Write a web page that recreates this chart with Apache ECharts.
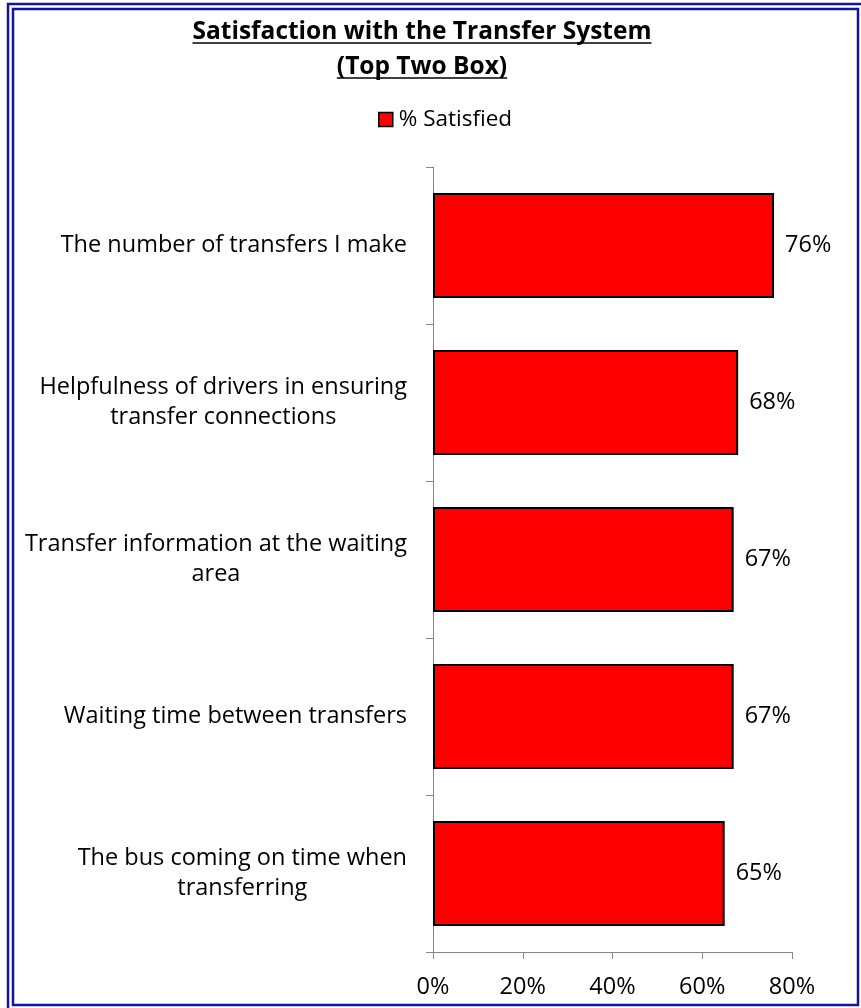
<!DOCTYPE html>
<html>
<head>
<meta charset="utf-8">
<script src="https://cdn.jsdelivr.net/npm/echarts@6/dist/echarts.min.js"></script>
<style>
html,body{margin:0;padding:0;background:#fff;}
#chart{width:861px;height:1008px;}
</style>
</head>
<body>
<div id="chart"></div>
<script>
const categories = [
  "The number of transfers I make",
  "Helpfulness of drivers in ensuring\ntransfer connections",
  "Transfer information at the waiting\narea",
  "Waiting time between transfers",
  "The bus coming on time when\ntransferring"
];
const satisfied = [0.76, 0.68, 0.67, 0.67, 0.65];
const xTicks = [0, 0.2, 0.4, 0.6, 0.8];
const titleLines = ["Satisfaction with the Transfer System", "(Top Two Box)"];
const seriesName = "% Satisfied";

const FONT = "Open Sans";
const ctx = document.createElement('canvas').getContext('2d');
function fitSize(text, weight, target) {
  ctx.font = weight + " 20px '" + FONT + "'";
  return 20 * target / ctx.measureText(text).width;
}
const fs = Math.round(fitSize("Helpfulness of drivers in ensuring", "normal", 364) * 2) / 2;
const tfs = Math.round(fitSize(titleLines[0], "bold", 455) * 2) / 2;
const titleFont = "bold " + tfs + "px '" + FONT + "'";
ctx.font = titleFont;
const titleCx = 422;
const titleMid = [32, 67];
const graphics = [];
graphics.push({type:'rect', silent:true, shape:{x:8, y:4, width:860, height:1012}, style:{fill:'none', stroke:'#1414a0', lineWidth:2.5}});
graphics.push({type:'rect', silent:true, shape:{x:13, y:9, width:845, height:996}, style:{fill:'none', stroke:'#1414a0', lineWidth:2.5}});
titleLines.forEach((t, i) => {
  const w = ctx.measureText(t).width;
  graphics.push({type:'text', silent:true, x:titleCx, y:titleMid[i], style:{text:t, font:titleFont, fill:'#000', align:'center', verticalAlign:'middle'}});
  graphics.push({type:'line', silent:true, shape:{x1:titleCx - w/2, y1:titleMid[i]+11, x2:titleCx + w/2, y2:titleMid[i]+11}, style:{stroke:'#000', lineWidth:1.5}});
});

const chart = echarts.init(document.getElementById('chart'), null, {renderer:'canvas'});
chart.setOption({
  animation:false,
  backgroundColor:'#fff',
  graphic: graphics,
  legend:{
    data:[seriesName], left:378, top:108, padding:0, itemWidth:14, itemHeight:14, itemGap:6, icon:'rect',
    textStyle:{fontFamily:FONT, fontSize:fs - 1, color:'#000', padding:[0,0,0,1]},
    itemStyle:{borderColor:'#000', borderWidth:1.5}
  },
  grid:{left:433, right:69, top:167, bottom:56, containLabel:false},
  xAxis:{
    type:'value', min:0, max:0.8, interval:0.2,
    axisLine:{show:true, lineStyle:{color:'#868686', width:1}},
    axisTick:{show:true, length:7, lineStyle:{color:'#868686'}},
    splitLine:{show:false},
    axisLabel:{margin:23, fontFamily:FONT, fontSize:fs, color:'#000',
      formatter: v => Math.round(v*100) + '%'}
  },
  yAxis:{
    type:'category', data:categories, inverse:true,
    axisLine:{show:true, lineStyle:{color:'#868686', width:1}},
    axisTick:{show:true, length:7, lineStyle:{color:'#868686'}},
    axisLabel:{margin:26, fontFamily:FONT, fontSize:fs, color:'#000', lineHeight:30,
      formatter: v => v.split('\n').map(s => '{c|' + s + '}').join('\n'),
      rich:{c:{align:'center', fontFamily:FONT, fontSize:fs, color:'#000', lineHeight:30}}
    }
  },
  series:[{
    name:seriesName, type:'bar', data:satisfied, barCategoryGap:'33%',
    itemStyle:{color:'#ff0000', borderColor:'#000', borderWidth:2},
    label:{show:true, position:'right', distance:11, fontFamily:FONT, fontSize:fs, color:'#000',
      formatter: p => Math.round(p.value*100) + '%'}
  }]
});
</script>
</body>
</html>
